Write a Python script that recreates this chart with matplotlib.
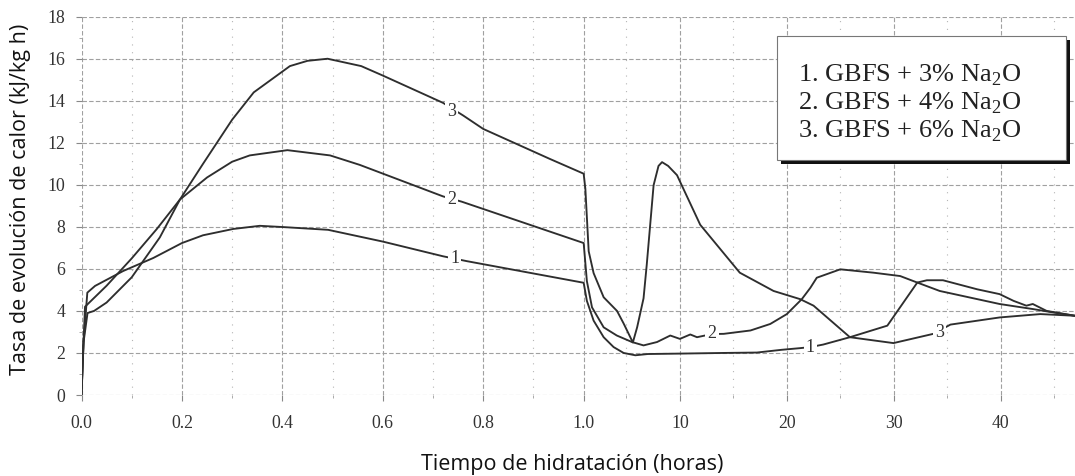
import numpy as np
import matplotlib
matplotlib.use("Agg")
import matplotlib.pyplot as plt
from matplotlib.patches import Rectangle

plt.rcParams["font.family"] = "Liberation Serif"
plt.rcParams["mathtext.fontset"] = "custom"
plt.rcParams["mathtext.rm"] = "Liberation Serif"

# Tasa de evolucion de calor (kJ/kg h) frente al tiempo (horas)
t_c1 = [0, 0.004, 0.0116, 0.027, 0.083, 0.143, 0.2, 0.242, 0.302, 0.355, 0.402, 0.491,
        0.6, 0.72, 0.767, 1.0,
        1.3, 1.93, 2.87, 3.8, 4.74, 5.83, 7.0, 10.0, 14.0, 17.2, 19.5, 21.25, 22.2, 23.4,
        25.9, 29.4, 32.2, 33.1, 34.6, 37.8, 39.9, 41.2, 42.4, 43.0, 44.3, 46.95]
v_c1 = [0, 2.5, 4.87, 5.19, 5.9, 6.52, 7.23, 7.6, 7.9, 8.05, 7.99, 7.86,
        7.3, 6.6, 6.37, 5.34,
        4.48, 3.54, 2.75, 2.28, 2.0, 1.89, 1.95, 1.97, 2.0, 2.02, 2.15, 2.23, 2.28, 2.4,
        2.75, 3.3, 5.35, 5.46, 5.46, 5.03, 4.8, 4.48, 4.25, 4.33, 4.0, 3.77]

t_c2 = [0, 0.004, 0.007, 0.05, 0.1, 0.15, 0.196, 0.25, 0.3, 0.335, 0.41, 0.495,
        0.554, 0.72, 0.757, 1.0,
        1.3, 1.78, 2.87, 4.1, 5.52, 6.6, 7.86, 9.1, 10.0, 10.97, 11.6, 13.0, 14.1, 16.6,
        18.45, 20.0, 21.4, 22.2, 22.8, 25.0, 28.1, 30.6, 32.2, 34.3, 39.9, 43.0, 44.9, 46.95]
v_c2 = [0, 2.5, 4.2, 5.2, 6.5, 7.9, 9.3, 10.35, 11.1, 11.4, 11.65, 11.4,
        10.95, 9.45, 9.2, 7.23,
        5.42, 4.17, 3.22, 2.83, 2.52, 2.36, 2.52, 2.83, 2.67, 2.88, 2.75, 2.9, 2.91, 3.07,
        3.38, 3.85, 4.56, 5.1, 5.58, 5.98, 5.82, 5.66, 5.35, 4.95, 4.33, 4.09, 3.93, 3.77]

t_c3 = [0, 0.004, 0.012, 0.025, 0.05, 0.1, 0.156, 0.196, 0.242, 0.3, 0.343, 0.415,
        0.45, 0.49, 0.557, 0.6, 0.72, 0.76, 0.8, 0.932, 1.0,
        1.16, 1.47, 1.93, 2.87, 4.12, 4.74, 5.6, 6.0, 6.6, 6.9, 7.54, 8.0, 8.33, 8.9,
        9.73, 11.9, 15.6, 18.76, 21.25, 22.5, 25.9, 29.97, 33.7, 35.3, 39.9, 43.7, 46.95]
v_c3 = [0, 2.5, 3.9, 4.0, 4.4, 5.6, 7.5, 9.3, 11.0, 13.1, 14.4, 15.65,
        15.9, 16.0, 15.65, 15.2, 13.9, 13.3, 12.66, 11.24, 10.53,
        9.8, 6.84, 5.8, 4.65, 4.0, 3.4, 2.5, 3.22, 4.6, 6.2, 9.98, 10.9, 11.08, 10.9,
        10.46, 8.1, 5.82, 4.95, 4.56, 4.25, 2.75, 2.47, 2.91, 3.35, 3.69, 3.85, 3.77]

# etiquetas numericas sobre las curvas: (texto, tiempo, valor)
curve_tags = [("1", 0.743, 6.5), ("2", 0.737, 9.3), ("3", 0.737, 13.5),
              ("2", 13.0, 2.91), ("1", 22.2, 2.28), ("3", 34.3, 2.99)]

legend_lines = ["1. GBFS + 3% Na$_\\mathregular{2}$O",
                "2. GBFS + 4% Na$_\\mathregular{2}$O",
                "3. GBFS + 6% Na$_\\mathregular{2}$O"]

x_major = [0, 0.2, 0.4, 0.6, 0.8, 1.0, 10, 20, 30, 40]
x_major_lbl = ["0.0", "0.2", "0.4", "0.6", "0.8", "1.0", "10", "20", "30", "40"]
x_minor = [0.1, 0.3, 0.5, 0.7, 0.9, 5, 15, 25, 35, 45]

# eje de tiempo partido: 0-1 h expandido, despues escala comprimida
K = 10.7 / 502.5


def fwd(t):
    t = np.asarray(t, dtype=float)
    return np.where(t <= 1.0, t, 1.0 + (t - 1.0) * K)


def inv(u):
    u = np.asarray(u, dtype=float)
    return np.where(u <= 1.0, u, 1.0 + (u - 1.0) / K)


W, H = 1075, 476
fig = plt.figure(figsize=(W / 100, H / 100), dpi=100)
ax = fig.add_axes([81.5 / W, 1 - 395 / H, 1 - 81.5 / W, (395 - 16.7) / H])
ax.set_xscale("function", functions=(fwd, inv))
ax.set_xlim(0, 46.95)
ax.set_ylim(0, 18)

LC = "#2e2e2e"
for t, v in [(t_c1, v_c1), (t_c2, v_c2), (t_c3, v_c3)]:
    ax.plot(t, v, color=LC, lw=1.35, zorder=3)

for txt, t, v in curve_tags:
    ax.text(t, v, txt, fontsize=13, color="#333333", ha="center", va="center", zorder=4,
            bbox=dict(boxstyle="square,pad=0.12", fc="white", ec="none"))

ax.set_xticks(x_major)
ax.set_xticklabels(x_major_lbl)
ax.set_xticks(x_minor, minor=True)
ax.set_yticks(range(0, 19, 2))
ax.set_yticks(range(1, 18, 2), minor=True)

for s in ax.spines.values():
    s.set_visible(False)
ax.tick_params(axis="both", which="major", length=4.3, width=0.8, color="#888888",
               labelsize=12.8, labelcolor="#333333")
ax.tick_params(axis="both", which="minor", length=2.5, width=0.7, color="#aaaaaa")
ax.tick_params(axis="x", which="major", pad=10)
ax.tick_params(axis="y", which="major", pad=7.5)

ax.grid(True, which="major", color="#a0a0a0", lw=0.8, ls=(0, (4, 2)), zorder=1)
ax.grid(True, which="minor", axis="x", color="#b5b5b5", lw=0.8, ls=(0, (1, 6)), zorder=1)

fig.text(21 / W, 1 - 199 / H, "Tasa de evolución de calor (kJ/kg h)", family="Open Sans",
         fontsize=15.5, rotation=90, ha="center", va="center", color="#111111")
fig.text(572 / W, 1 - 470 / H, "Tiempo de hidratación (horas)", family="Open Sans",
         fontsize=15.5, ha="center", va="baseline", color="#111111")

# recuadro de leyenda con sombra
bx0, bx1, by0, by1 = 777, 1066, 36, 160
fig.add_artist(Rectangle(((bx0 + 4) / W, 1 - (by1 + 4) / H), (bx1 - bx0) / W, (by1 - by0) / H,
                         transform=fig.transFigure, fc="#111111", ec="none", zorder=5))
fig.add_artist(Rectangle((bx0 / W, 1 - by1 / H), (bx1 - bx0) / W, (by1 - by0) / H,
                         transform=fig.transFigure, fc="white", ec="#777777", lw=0.8, zorder=6))
for i, line in enumerate(legend_lines):
    fig.text(798 / W, 1 - (82 + 27.5 * i) / H, line, fontsize=19, color="#222222",
             ha="left", va="baseline", zorder=7)

fig.savefig("out.png", dpi=100)
